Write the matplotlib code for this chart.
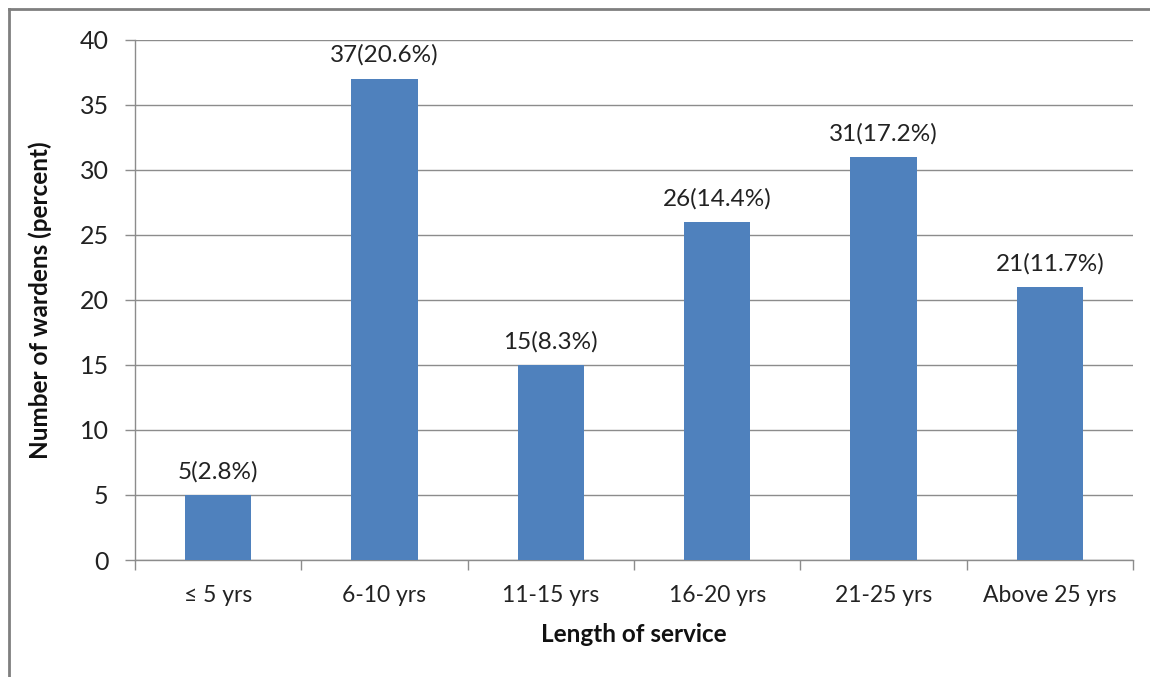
import matplotlib
matplotlib.use("Agg")
import matplotlib.pyplot as plt
from matplotlib.lines import Line2D

categories = ["\u2264 5 yrs", "6-10 yrs", "11-15 yrs", "16-20 yrs", "21-25 yrs", "Above 25 yrs"]
counts = [5, 37, 15, 26, 31, 21]
labels = ["5(2.8%)", "37(20.6%)", "15(8.3%)", "26(14.4%)", "31(17.2%)", "21(11.7%)"]
yticks = [0, 5, 10, 15, 20, 25, 30, 35, 40]

plt.rcParams['font.family'] = ['Lato', 'DejaVu Sans']

W, H = 1150, 677
fig = plt.figure(figsize=(W / 100, H / 100), dpi=100)
fig.patch.set_facecolor('white')

# outer frame (top and left edges visible)
fig.add_artist(Line2D([9 / W, 1.0], [1 - 9 / H, 1 - 9 / H], color='#7f7f7f', lw=2, transform=fig.transFigure))
fig.add_artist(Line2D([9 / W, 9 / W], [1 - 9 / H, 0], color='#7f7f7f', lw=2, transform=fig.transFigure))

left, right, top, bottom = 135, 1133, 39.5, 560
ax = fig.add_axes([left / W, 1 - bottom / H, (right - left) / W, (bottom - top) / H])

x = list(range(len(categories)))
grid_c = '#8c8c8c'
text_c = '#222222'
ax.bar(x, counts, width=0.4, color='#4F81BD', zorder=3)
ax.set_xlim(-0.5, len(categories) - 0.5)
ax.set_ylim(0, 40)
ax.set_yticks(yticks)
ax.yaxis.grid(True, color=grid_c, lw=1)
ax.set_axisbelow(True)

for s in ['top', 'right']:
    ax.spines[s].set_visible(False)
for s in ['left', 'bottom']:
    ax.spines[s].set_color(grid_c)
    ax.spines[s].set_linewidth(1)

ax.set_xticks(x)
ax.set_xticklabels(categories, fontsize=16.5, color=text_c)
ax.tick_params(axis='x', length=0, pad=18)
ax.set_xticks([i - 0.5 for i in range(len(categories) + 1)], minor=True)
ax.tick_params(axis='x', which='minor', length=7, color=grid_c, width=1)
ax.tick_params(axis='y', length=7, color=grid_c, width=1, labelsize=18, labelcolor=text_c, pad=12)

for xi, c, lab in zip(x, counts, labels):
    ax.annotate(lab, (xi, c), xytext=(0, 9), textcoords='offset points',
                ha='center', va='bottom', fontsize=17.5, color=text_c)

ax.set_ylabel("Number of wardens (percent)", fontsize=17.5, fontweight='bold', color='#111111')
ax.yaxis.set_label_coords((40 - left) / (right - left), 0.5)
ax.set_xlabel("Length of service", fontsize=17.5, fontweight='bold', color='#111111')
ax.xaxis.set_label_coords(0.5, -(635 - bottom) / (bottom - top))
ax.xaxis.label.set_va('center')
ax.yaxis.label.set_va('center')

fig.savefig("out.png", dpi=100)
